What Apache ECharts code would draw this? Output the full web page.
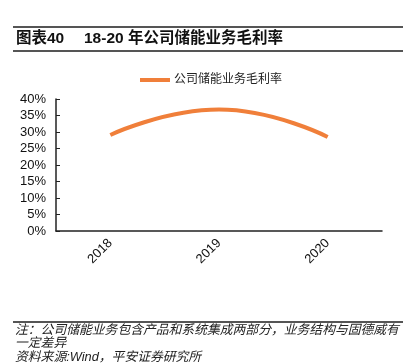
<!DOCTYPE html>
<html><head><meta charset="utf-8">
<script src="https://cdn.jsdelivr.net/npm/echarts@6/dist/echarts.min.js"></script>
<style>html,body{margin:0;padding:0;background:#fff}#c{width:416px;height:363px}</style>
</head><body><div id="c"></div>
<script>
var categories = ['2018', '2019', '2020'];
var seriesName = '公司储能业务毛利率';
var margin = [29.1, 36.8, 28.5];
var yTicks = [0, 5, 10, 15, 20, 25, 30, 35, 40];
var titleLabel = '图表40';
var titleText = '18-20 年公司储能业务毛利率';
var noteLines = ['注：公司储能业务包含产品和系统集成两部分，业务结构与固德威有', '一定差异', '资料来源:Wind，平安证券研究所'];

var chart = echarts.init(document.getElementById('c'));
var font = '"Liberation Sans", Arial, "Noto Sans CJK SC", sans-serif';
var graphics = [
  {type:'line', shape:{x1:13,y1:27,x2:403,y2:27}, style:{stroke:'#555',lineWidth:2}},
  {type:'line', shape:{x1:13,y1:51,x2:403,y2:51}, style:{stroke:'#555',lineWidth:2}},
  {type:'text', left:16, top:31, style:{text:titleLabel, font:'bold 15.5px ' + font, fill:'#111'}},
  {type:'text', left:84, top:31, style:{text:titleText, font:'bold 15.5px ' + font, fill:'#111'}},
  {type:'line', shape:{x1:13,y1:322,x2:403,y2:322}, style:{stroke:'#555',lineWidth:2}}
];
noteLines.forEach(function(t, i){
  graphics.push({type:'text', left:15, top:324 + i*13.5, style:{text:t, font:'italic 12.8px ' + font, fill:'#222'}});
});
chart.setOption({
  animation:false,
  textStyle:{fontFamily:font},
  graphic:graphics,
  legend:{data:[{name:seriesName, icon:'path://M0,0L30,0L30,4L0,4Z'}], left:140, top:74, padding:0, itemWidth:32, itemHeight:4, itemGap:4,
    textStyle:{fontSize:12, color:'#222', fontFamily:font, padding:[0,0,0,-2]}},
  grid:{left:56, right:34, top:99, bottom:132},
  xAxis:{type:'category', data:categories, boundaryGap:true,
    axisLine:{lineStyle:{color:'#222', width:1.5}},
    axisTick:{inside:true, length:4, lineStyle:{color:'#222'}},
    axisLabel:{rotate:45, fontSize:13, color:'#111', margin:10, fontFamily:font}},
  yAxis:{type:'value', min:0, max:40, interval:5,
    axisLine:{show:true, lineStyle:{color:'#222', width:1.5}},
    axisTick:{show:true, inside:true, length:4, lineStyle:{color:'#222'}},
    splitLine:{show:false},
    axisLabel:{fontSize:13, color:'#111', margin:10, fontFamily:font, formatter:function(v){return v + '%';}}},
  series:[{name:seriesName, type:'line', data:margin, smooth:true, showSymbol:false,
    lineStyle:{color:'#F07F3A', width:4}, itemStyle:{color:'#F07F3A'}}]
});
</script></body></html>
